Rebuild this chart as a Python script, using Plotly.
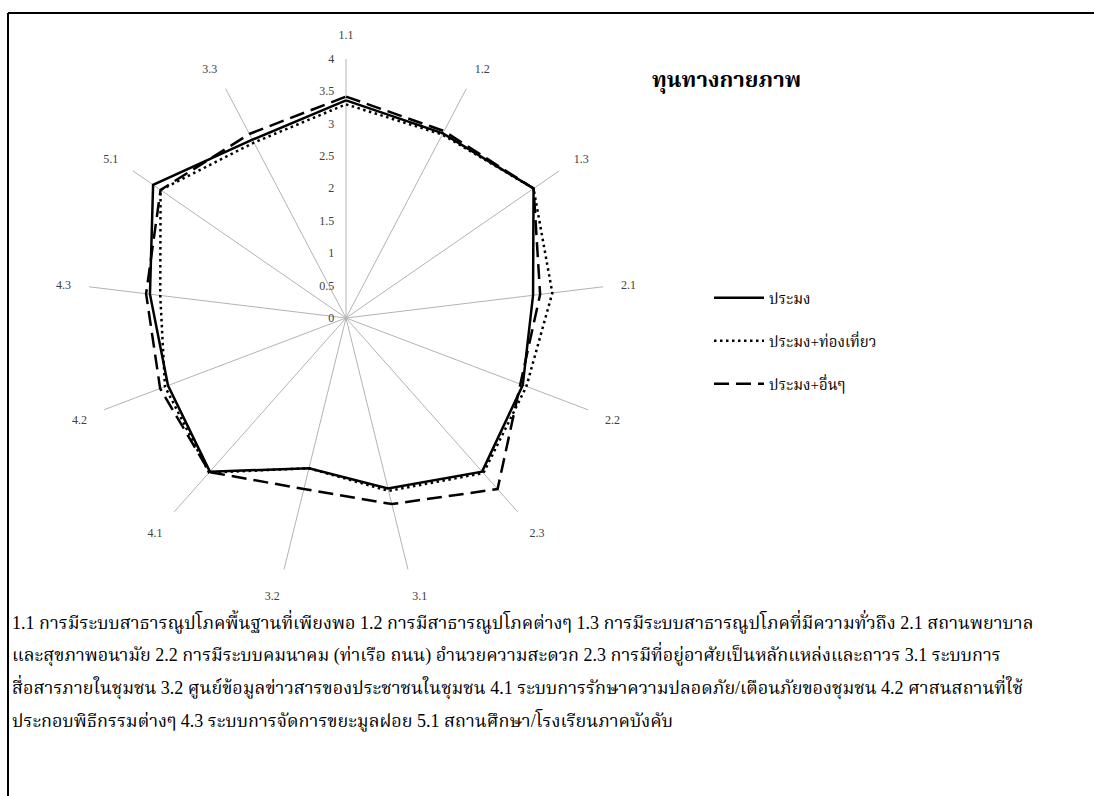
import plotly.graph_objects as go

# Indicator codes around the radar (clockwise from the top)
categories = ["1.1", "1.2", "1.3", "2.1", "2.2", "2.3", "3.1", "3.2",
              "4.1", "4.2", "4.3", "5.1", "3.3"]

# Mean scores per community group
fishery = [3.36, 3.22, 3.52, 2.91, 2.92, 3.17, 2.71, 2.39, 3.17, 2.94, 3.05, 3.62, 3.11]
fishery_tourism = [3.30, 3.20, 3.52, 3.21, 2.98, 3.20, 2.75, 2.39, 3.19, 2.99, 2.89, 3.48, 3.06]
fishery_other = [3.42, 3.26, 3.52, 3.02, 2.88, 3.53, 2.96, 2.72, 3.18, 3.07, 3.11, 3.48, 3.21]

series_names = ["ประมง", "ประมง+ท่องเที่ยว", "ประมง+อื่นๆ"]

radial_ticks = [0, 0.5, 1, 1.5, 2, 2.5, 3, 3.5, 4]

title_text = "ทุนทางกายภาพ"
caption_lines = [
    "1.1 การมีระบบสาธารณูปโภคพื้นฐานที่เพียงพอ 1.2 การมีสาธารณูปโภคต่างๆ 1.3 การมีระบบสาธารณูปโภคที่มีความทั่วถึง 2.1 สถานพยาบาล",
    "และสุขภาพอนามัย 2.2 การมีระบบคมนาคม (ท่าเรือ ถนน) อำนวยความสะดวก 2.3 การมีที่อยู่อาศัยเป็นหลักแหล่งและถาวร 3.1 ระบบการ",
    "สื่อสารภายในชุมชน 3.2 ศูนย์ข้อมูลข่าวสารของประชาชนในชุมชน 4.1 ระบบการรักษาความปลอดภัย/เตือนภัยของชุมชน 4.2 ศาสนสถานที่ใช้",
    "ประกอบพิธีกรรมต่างๆ 4.3 ระบบการจัดการขยะมูลฝอย 5.1 สถานศึกษา/โรงเรียนภาคบังคับ",
]

W, H = 1094, 796
SERIF = "Liberation Serif, Times New Roman, Noto Serif Thai, Noto Sans Thai, serif"

fig = go.Figure()

styles = [
    dict(color="black", width=2.5, dash="solid"),
    dict(color="black", width=2.5, dash="2.5px,3.5px"),
    dict(color="black", width=2.5, dash="15px,7px"),
]
legend_ids = ["legend", "legend2", "legend3"]

for name, vals, st, lg in zip(series_names, [fishery, fishery_tourism, fishery_other], styles, legend_ids):
    fig.add_trace(go.Scatterpolar(
        r=vals + vals[:1],
        theta=categories + categories[:1],
        mode="lines",
        name=name,
        line=st,
        legend=lg,
    ))

# One legend box per series so the entries sit well apart
legend_style = dict(xanchor="left", yanchor="middle", itemwidth=50,
                    font=dict(family=SERIF, size=15, color="black"),
                    bgcolor="rgba(0,0,0,0)")
legend_rows = [298, 341, 384]

# Polar area: centre at (346, 318) px, radius 259 px
cx, cy, R = 346, 318, 259
fig.update_layout(
    width=W, height=H,
    margin=dict(l=0, r=0, t=0, b=0),
    paper_bgcolor="white",
    plot_bgcolor="white",
    showlegend=True,
    legend=dict(x=709 / W, y=1 - legend_rows[0] / H, **legend_style),
    legend2=dict(x=709 / W, y=1 - legend_rows[1] / H, **legend_style),
    legend3=dict(x=709 / W, y=1 - legend_rows[2] / H, **legend_style),
    polar=dict(
        domain=dict(x=[(cx - R) / W, (cx + R) / W], y=[1 - (cy + R) / H, 1 - (cy - R) / H]),
        bgcolor="white",
        radialaxis=dict(
            range=[0, 4], tickvals=radial_ticks,
            ticktext=[f"{v:g}" for v in radial_ticks],
            angle=90, tickangle=90, side="counterclockwise",
            showgrid=False, showline=False,
            ticks="outside", ticklen=7, tickcolor="rgba(0,0,0,0)",
            tickfont=dict(family=SERIF, size=12, color="#404040"),
        ),
        angularaxis=dict(
            direction="clockwise", rotation=90,
            showgrid=True, gridcolor="#b3b3b3", gridwidth=1,
            showline=False, ticks="outside", ticklen=15, tickcolor="rgba(0,0,0,0)",
            tickfont=dict(family=SERIF, size=12, color="#404040"),
        ),
    ),
    annotations=[
        dict(text=f"<b>{title_text}</b>", x=650 / W, y=1 - 80 / H, xref="paper", yref="paper",
             xanchor="left", yanchor="middle", showarrow=False,
             font=dict(family=SERIF, size=22, color="black")),
    ] + [
        dict(text=line, x=10 / W, y=1 - (621 + 33 * i) / H, xref="paper", yref="paper",
             xanchor="left", yanchor="middle", showarrow=False,
             font=dict(family=SERIF, size=18, color="black"))
        for i, line in enumerate(caption_lines)
    ],
    shapes=[
        dict(type="line", xref="paper", yref="paper", x0=8 / W, x1=1, y0=1 - 13 / H, y1=1 - 13 / H,
             line=dict(color="black", width=2)),
        dict(type="line", xref="paper", yref="paper", x0=8 / W, x1=8 / W, y0=1 - 13 / H, y1=0,
             line=dict(color="black", width=2)),
    ],
)

fig.write_html("out.html")
